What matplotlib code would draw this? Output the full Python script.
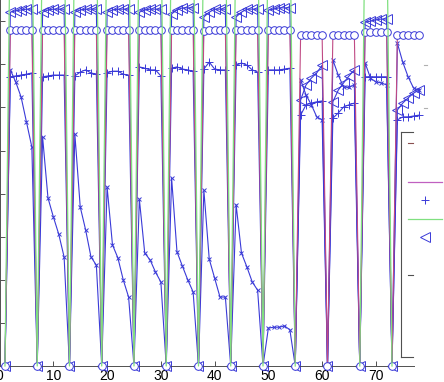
import numpy as np
import matplotlib.pyplot as plt
from matplotlib.lines import Line2D

plt.rcParams['font.family'] = ['Liberation Sans', 'DejaVu Sans']

nan = np.nan
W, H = 444, 382

# sample index, every 6th sample is a reset to zero
x = list(range(1, 79))

# 'x' markers, decaying inside each block
decay = [0, 6.87, 6.59, 6.24, 5.66, 5.08,
         0, 5.31, 3.90, 3.46, 3.06, 2.53,
         0, 5.38, 3.69, 3.16, 2.53, 2.34,
         0, 4.15, 2.81, 2.51, 2.00, 1.60,
         0, 3.87, 2.62, 2.46, 2.18, 1.95,
         0, 4.36, 2.65, 2.32, 2.00, 1.72,
         0, 4.08, 2.48, 2.04, 1.60, 1.60,
         0, 3.74, 2.62, 2.30, 1.95, 1.76,
         0, 0.88, 0.90, 0.90, 0.93, 0.84,
         0, 6.64, 6.29, 6.06, 5.78, 5.71,
         0, 7.10, 6.75, 6.47, 6.47, 6.52,
         0, 7.03, 6.68, 6.59, 6.57, 6.52,
         0, 7.49, 7.05, 6.71, 6.45, 6.40]

# '+' markers
plus = [0, 6.71, 6.73, 6.75, 6.77, 6.80,
        0, 6.71, 6.73, 6.75, 6.75, 6.75,
        0, 6.73, 6.82, 6.87, 6.80, 6.77,
        0, 6.80, 6.84, 6.84, 6.77, 6.75,
        0, 6.94, 6.91, 6.87, 6.87, 6.73,
        0, 6.91, 6.94, 6.89, 6.87, 6.84,
        0, 6.89, 7.05, 6.89, 6.87, 6.87,
        0, 6.98, 7.03, 6.98, 6.87, 6.82,
        0, 6.87, 6.87, 6.87, 6.89, 6.91,
        0, 5.82, 6.06, 6.10, 6.13, 6.15,
        0, 5.75, 5.87, 6.01, 6.06, 6.10,
        0, 6.71, 6.71, 6.71, 6.71, 6.71,
        0, 5.71, 5.78, 5.78, 5.80, 5.82]

# triangle markers
tri = [0, 8.21, 8.24, 8.26, 8.28, 8.28,
       0, 8.21, 8.26, 8.28, 8.28, 8.28,
       0, 8.21, 8.26, 8.28, 8.28, 8.28,
       0, 8.21, 8.26, 8.28, 8.28, 8.28,
       0, 8.21, 8.26, 8.28, 8.28, 8.28,
       0, 8.17, 8.26, 8.31, 8.31, 8.31,
       0, 8.10, 8.21, 8.28, 8.28, 8.28,
       0, 8.10, 8.21, 8.28, 8.28, 8.28,
       0, 8.26, 8.28, 8.31, 8.31, 8.31,
       0, 6.17, 6.52, 6.68, 6.80, 6.98,
       0, 6.13, 6.40, 6.57, 6.73, 6.87,
       0, 7.98, 8.00, 8.03, 8.05, 8.05,
       0, 5.94, 6.10, 6.22, 6.33, 6.40]

# circle markers
circ = [0, 7.80, 7.80, 7.80, 7.80, 7.80,
        0, 7.80, 7.80, 7.80, 7.80, 7.80,
        0, 7.80, 7.80, 7.80, 7.80, 7.80,
        0, 7.80, 7.80, 7.80, 7.80, 7.80,
        0, 7.80, 7.80, 7.80, 7.80, 7.80,
        0, 7.80, 7.80, 7.80, 7.80, 7.80,
        0, 7.77, 7.80, 7.80, 7.80, 7.80,
        0, 7.80, 7.80, 7.80, 7.80, 7.80,
        0, 7.80, 7.80, 7.80, 7.80, 7.80,
        0, 7.68, 7.68, 7.68, 7.68, 7.68,
        0, 7.68, 7.68, 7.68, 7.68, 7.68,
        0, 7.75, 7.75, 7.75, 7.75, 7.75,
        0, 7.68, 7.68, 7.68, 7.68, 7.68]

# green line, runs above the visible area
upper = [0, 10.5, 10.5, 10.5, 10.5, 10.5,
         0, 10.5, 10.5, 10.5, 10.5, 10.5,
         0, 10.5, 10.5, 10.5, 10.5, 10.5,
         0, 10.5, 10.5, 10.5, 10.5, 10.5,
         0, 10.5, 10.5, 10.5, 10.5, 10.5,
         0, 10.5, 10.5, 10.5, 10.5, 10.5,
         0, 10.5, 10.5, 10.5, 10.5, 10.5,
         0, 10.5, 10.5, 10.5, 10.5, 10.5,
         0, 10.5, 10.5, 10.5, 10.5, 10.5,
         0, nan, nan, nan, nan, nan,
         0, nan, nan, nan, nan, nan,
         0, 10.5, 10.5, 10.5, 10.5, 10.5,
         0, nan, nan, nan, nan, nan]

x_ticks = [0, 10, 20, 30, 40, 50, 60, 70]
y_ticks = [0, 1, 2, 3, 4, 5, 6, 7, 8, 9]

BLUE = '#3a3ad8'
GREEN = '#80e080'
PURPLE = '#c04a84'
AXC = '#505050'


def fx(px):
    return px / W


def fy(py):
    return 1 - py / H


fig = plt.figure(figsize=(W / 100, H / 100), dpi=100)
left, right, bottom = -0.4, 413.5, 366
ax = fig.add_axes([fx(left), fy(bottom), (right - left) / W, 9 * 43.1 / H])

ax.plot(x, decay, color=BLUE, lw=0.8, marker='x', ms=3.5, mew=0.7, clip_on=False, zorder=2)
ax.plot(x, plus, color=BLUE, lw=0.8, marker='+', ms=6, mew=0.7, clip_on=False, zorder=2)
ax.plot(x, tri, color=BLUE, lw=0.8, marker='<', ms=6.5, mew=0.7, mfc='none', clip_on=False, zorder=2)
ax.plot(x, circ, color=PURPLE, lw=0.8, marker='o', ms=5.5, mew=0.7, mec=BLUE, mfc='white',
        clip_on=False, zorder=3)
ax.plot(x, upper, color=GREEN, lw=0.9, clip_on=False, zorder=4)

ax.set_xlim(0, 77)
ax.set_ylim(0, 9)
ax.set_xticks(x_ticks)
ax.set_yticks(y_ticks)
ax.tick_params(direction='in', length=3.5, width=0.7, color=AXC, labelsize=10, pad=2.5)
ax.tick_params(axis='y', labelleft=False)
for s in ['top', 'right']:
    ax.spines[s].set_visible(False)
for s in ['left', 'bottom']:
    ax.spines[s].set_color(AXC)
    ax.spines[s].set_linewidth(0.7)

# legend box edge and stray ticks on the right
def seg(p0, p1, color=AXC, lw=0.8):
    fig.add_artist(Line2D([fx(p0[0]), fx(p1[0])], [fy(p0[1]), fy(p1[1])], color=color, lw=lw))

seg((401, 132), (401, 357))
seg((401, 132), (413, 132))
seg((401, 357), (413, 357))
seg((408, 143), (413, 143), color='#8a5050')
seg((408, 275), (413, 275))
seg((424, 65), (427, 65), color='#b0b0b0')
seg((424, 108), (427, 108), color='#b0b0b0')

# legend samples only; the label column lies past the right edge of the picture
handles = [Line2D([], [], color='#c060c0', lw=0.9),
           Line2D([], [], color=BLUE, ls='none', marker='+', ms=6, mew=0.7),
           Line2D([], [], color=GREEN, lw=0.9),
           Line2D([], [], color=BLUE, ls='none', marker='<', ms=6.5, mew=0.7, mfc='none')]
labels = ['', '', '', '']
fig.legend(handles, labels, loc='upper left', bbox_to_anchor=(fx(408), fy(176)),
           frameon=False, fontsize=10, handlelength=2.45, handletextpad=0.6,
           labelspacing=0.31, borderpad=0, borderaxespad=0)

fig.savefig('out.png', dpi=100)
